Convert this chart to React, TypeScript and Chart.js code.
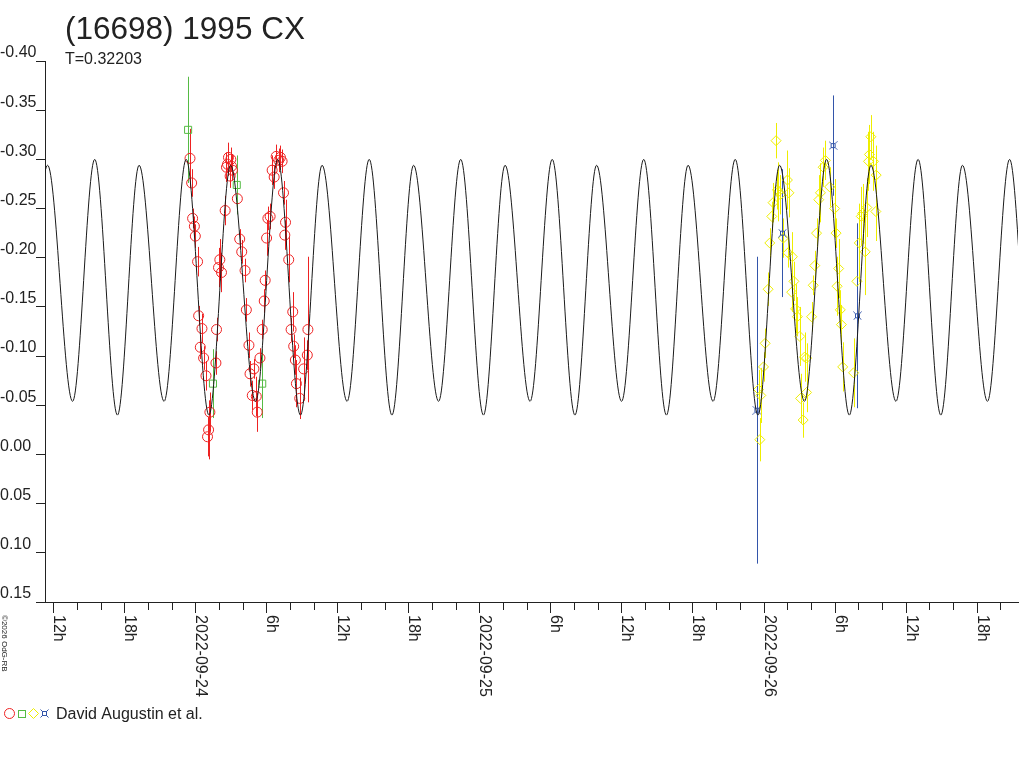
import React, { useEffect, useRef } from "react";
import { Chart, registerables } from "chart.js";

Chart.register(...registerables);

// ---------- text ----------
const TITLE = "(16698) 1995 CX";
const PERIOD_TEXT = "T=0.32203";
const OBSERVER = "David Augustin et al.";
const COPYRIGHT = "©2026 OdG-RB";

// ---------- axes (hours since 2022-09-24 00:00 UT, relative magnitude) ----------
const xMinHours = -12.7;
const xMaxHours = 69.5;
const yMinMag = -0.4;
const yMaxMag = 0.15;
const yTicks = [-0.4, -0.35, -0.3, -0.25, -0.2, -0.15, -0.1, -0.05, 0.0, 0.05, 0.1, 0.15];
const xMinorTicks = [
  -12, -10, -8, -6, -4, -2, 0, 2, 4, 6, 8, 10, 12, 14, 16, 18, 20, 22, 24, 26, 28, 30, 32, 34, 36, 38, 40,
  42, 44, 46, 48, 50, 52, 54, 56, 58, 60, 62, 64, 66, 68,
];
const xLabelHours = [-12, -6, 0, 6, 12, 18, 24, 30, 36, 42, 48, 54, 60, 66];
const xLabelTexts = [
  "12h", "18h", "2022-09-24", "6h", "12h", "18h", "2022-09-25", "6h", "12h", "18h", "2022-09-26", "6h", "12h", "18h",
];

// ---------- fitted light curve: extrema ----------
const fitT = [
  -14.31, -12.48, -10.37, -8.5, -6.58, -4.75, -2.64, -0.77, 1.15, 2.98, 5.09, 6.96, 8.88, 10.71, 12.82, 14.69,
  16.61, 18.44, 20.55, 22.42, 24.34, 26.17, 28.28, 30.15, 32.07, 33.9, 36.01, 37.88, 39.8, 41.63, 43.74, 45.61,
  47.53, 49.36, 51.46, 53.33, 55.25, 57.08, 59.19, 61.06, 62.98, 64.81, 66.92, 68.79, 70.71, 72.54,
];
const fitMag = [
  -0.04, -0.294, -0.054, -0.3, -0.04, -0.294, -0.054, -0.3, -0.04, -0.294, -0.054, -0.3, -0.04, -0.294, -0.054, -0.3,
  -0.04, -0.294, -0.054, -0.3, -0.04, -0.294, -0.054, -0.3, -0.04, -0.294, -0.054, -0.3, -0.04, -0.294, -0.054, -0.3,
  -0.04, -0.294, -0.054, -0.3, -0.04, -0.294, -0.054, -0.3, -0.04, -0.294, -0.054, -0.3, -0.04, -0.294,
];

// ---------- observations ----------
const redT = [
  -0.45, -0.31, -0.23, -0.08, 0.0, 0.19, 0.28, 0.56, 0.42, 0.7, 0.9, 1.23, 1.12, 1.03, 1.74, 1.79, 1.96, 2.07, 2.21,
  2.52, 2.63, 2.8, 3.0, 2.94, 3.13, 3.55, 3.75, 3.92, 4.2, 4.31, 4.53, 4.62, 4.95, 4.81, 5.15, 5.23, 5.46, 5.65,
  5.82, 5.9, 6.02, 6.13, 6.32, 6.49, 6.66, 6.83, 7.05, 7.33, 7.45, 7.62, 7.56, 7.89, 8.23, 8.09, 8.31, 8.45, 8.54,
  8.82, 9.15, 9.46, 9.51, 2.72, 3.06, 7.19,
];
const redMag = [
  -0.301, -0.276, -0.24, -0.232, -0.222, -0.196, -0.141, -0.128, -0.109, -0.098, -0.08, -0.043, -0.025, -0.018,
  -0.093, -0.127, -0.19, -0.198, -0.185, -0.248, -0.292, -0.302, -0.3, -0.283, -0.289, -0.26, -0.219, -0.206,
  -0.187, -0.147, -0.111, -0.082, -0.087, -0.06, -0.059, -0.043, -0.098, -0.127, -0.156, -0.177, -0.22, -0.24,
  -0.242, -0.289, -0.282, -0.303, -0.299, -0.298, -0.266, -0.236, -0.223, -0.198, -0.145, -0.127, -0.11, -0.096,
  -0.072, -0.057, -0.087, -0.101, -0.127, -0.295, -0.293, -0.302,
];
const redErr = [
  0.03, 0.014, 0.01, 0.01, 0.012, 0.015, 0.01, 0.015, 0.012, 0.012, 0.015, 0.02, 0.03, 0.02, 0.012, 0.012, 0.02,
  0.021, 0.02, 0.015, 0.015, 0.015, 0.012, 0.012, 0.01, 0.012, 0.01, 0.012, 0.012, 0.012, 0.013, 0.013, 0.01,
  0.015, 0.02, 0.02, 0.01, 0.01, 0.012, 0.01, 0.018, 0.012, 0.013, 0.015, 0.012, 0.012, 0.012, 0.012, 0.012,
  0.023, 0.015, 0.023, 0.02, 0.012, 0.012, 0.015, 0.024, 0.021, 0.032, 0.015, 0.074, 0.012, 0.012, 0.012,
];

const greenT = [-0.61, 3.5, 1.49, 5.65];
const greenMag = [-0.33, -0.274, -0.072, -0.072];
const greenErr = [0.054, 0.03, 0.035, 0.035];

const yellowT = [
  49.06, 49.26, 48.81, 48.7, 48.53, 48.39, 48.14, 48.0, 47.77, 47.58, 47.69, 49.68, 50.02, 50.15, 50.07, 50.44,
  50.57, 50.38, 50.71, 50.86, 51.07, 51.47, 51.64, 51.13, 51.35, 49.18, 49.42, 53.04, 53.23, 52.81, 52.67, 53.59,
  54.01, 52.48, 54.13, 52.33, 54.35, 52.2, 54.22, 52.06, 54.49, 54.58, 54.69, 55.61, 51.64, 55.89, 56.09, 56.26,
  56.37, 56.59, 56.73, 56.87, 57.07, 56.95, 57.29, 57.52, 57.49,
];
const yellowMag = [
  -0.319, -0.267, -0.256, -0.242, -0.215, -0.168, -0.113, -0.089, -0.06, -0.066, -0.015, -0.22, -0.279, -0.266,
  -0.205, -0.201, -0.176, -0.165, -0.148, -0.14, -0.12, -0.099, -0.063, -0.057, -0.035, -0.269, -0.264, -0.292,
  -0.299, -0.266, -0.259, -0.272, -0.25, -0.225, -0.225, -0.192, -0.189, -0.172, -0.171, -0.14, -0.147, -0.132,
  -0.089, -0.083, -0.098, -0.176, -0.215, -0.242, -0.245, -0.206, -0.251, -0.298, -0.323, -0.305, -0.298, -0.284,
  -0.247,
];
const yellowErr = [
  0.018, 0.03, 0.02, 0.015, 0.015, 0.017, 0.015, 0.015, 0.028, 0.02, 0.022, 0.02, 0.03, 0.025, 0.015, 0.025, 0.02,
  0.02, 0.025, 0.02, 0.03, 0.025, 0.02, 0.025, 0.018, 0.02, 0.02, 0.02, 0.02, 0.03, 0.025, 0.02, 0.03, 0.015,
  0.015, 0.015, 0.03, 0.01, 0.03, 0.015, 0.02, 0.02, 0.025, 0.035, 0.015, 0.04, 0.04, 0.03, 0.03, 0.044, 0.03,
  0.03, 0.022, 0.03, 0.03, 0.03, 0.03,
];

const blueT = [47.44, 49.6, 53.88, 55.94];
const blueMag = [-0.045, -0.225, -0.314, -0.141];
const blueErr = [0.156, 0.065, 0.051, 0.094];

// ---------- styles ----------
const FONT = "'Liberation Sans', Arial, sans-serif";
const INK = "#222222";
const RED = "#ee2222";
const GREEN = "#55bb44";
const YELLOW = "#eeee00";
const BLUE = "#3355aa";
const CURVE = "#1a1a1a";

function makeBlueSymbol(): HTMLCanvasElement {
  const c = document.createElement("canvas");
  c.width = 9;
  c.height = 9;
  const g = c.getContext("2d")!;
  g.strokeStyle = BLUE;
  g.lineWidth = 1;
  g.strokeRect(2.5, 2.5, 4, 4);
  g.beginPath();
  g.moveTo(0.5, 0.5);
  g.lineTo(2.5, 2.5);
  g.moveTo(8.5, 0.5);
  g.lineTo(6.5, 2.5);
  g.moveTo(0.5, 8.5);
  g.lineTo(2.5, 6.5);
  g.moveTo(8.5, 8.5);
  g.lineTo(6.5, 6.5);
  g.stroke();
  return c;
}

const pts = (t: number[], m: number[]) => t.map((v, i) => ({ x: v, y: m[i] }));

export default function App() {
  const ref = useRef<HTMLCanvasElement | null>(null);

  useEffect(() => {
    if (!ref.current) return;
    const blueSym = makeBlueSymbol();

    const errorSeries = [
      { t: redT, m: redMag, e: redErr, c: RED },
      { t: greenT, m: greenMag, e: greenErr, c: GREEN },
      { t: yellowT, m: yellowMag, e: yellowErr, c: YELLOW },
      { t: blueT, m: blueMag, e: blueErr, c: BLUE },
    ];

    const errorBars = {
      id: "errorBars",
      beforeDatasetsDraw(chart: any) {
        const { ctx, chartArea: a, scales } = chart;
        const xs = scales.x;
        const ys = scales.y;
        ctx.save();
        ctx.beginPath();
        ctx.rect(a.left, a.top, a.right - a.left, a.bottom - a.top);
        ctx.clip();
        ctx.lineWidth = 1;
        for (const s of errorSeries) {
          ctx.strokeStyle = s.c;
          ctx.beginPath();
          s.t.forEach((t, i) => {
            const px = Math.round(xs.getPixelForValue(t)) + 0.5;
            ctx.moveTo(px, ys.getPixelForValue(s.m[i] - s.e[i]));
            ctx.lineTo(px, ys.getPixelForValue(s.m[i] + s.e[i]));
          });
          ctx.stroke();
        }
        ctx.restore();
      },
    };

    const decor = {
      id: "decor",
      afterDraw(chart: any) {
        const { ctx, chartArea: a, scales } = chart;
        const xs = scales.x;
        ctx.save();
        // x ticks
        ctx.strokeStyle = INK;
        ctx.lineWidth = 1;
        ctx.beginPath();
        for (const h of xMinorTicks) {
          const px = Math.round(xs.getPixelForValue(h)) + 0.5;
          const len = xLabelHours.includes(h) ? 11 : 8;
          ctx.moveTo(px, a.bottom);
          ctx.lineTo(px, a.bottom + len);
        }
        ctx.stroke();
        // x labels, rotated to read downwards
        ctx.fillStyle = INK;
        ctx.font = `16px ${FONT}`;
        ctx.textAlign = "left";
        ctx.textBaseline = "alphabetic";
        xLabelHours.forEach((h, i) => {
          const px = Math.round(xs.getPixelForValue(h));
          ctx.save();
          ctx.translate(px + 1, a.bottom + 13);
          ctx.rotate(Math.PI / 2);
          ctx.fillText(xLabelTexts[i], 0, 0);
          ctx.restore();
        });
        // title and period
        ctx.font = `31.5px ${FONT}`;
        ctx.fillText(TITLE, 65, 38.5);
        ctx.font = `16px ${FONT}`;
        ctx.fillText(PERIOD_TEXT, 65, 63.5);
        // legend
        ctx.lineWidth = 1;
        ctx.strokeStyle = RED;
        ctx.beginPath();
        ctx.arc(9.5, 713.5, 5, 0, Math.PI * 2);
        ctx.stroke();
        ctx.strokeStyle = GREEN;
        ctx.strokeRect(18.5, 710.5, 7, 7);
        ctx.strokeStyle = YELLOW;
        ctx.beginPath();
        ctx.moveTo(33.5, 708.5);
        ctx.lineTo(38.5, 713.5);
        ctx.lineTo(33.5, 718.5);
        ctx.lineTo(28.5, 713.5);
        ctx.closePath();
        ctx.stroke();
        ctx.drawImage(blueSym, 40, 709);
        ctx.fillStyle = INK;
        ctx.font = `16px ${FONT}`;
        ctx.fillText(OBSERVER, 56, 718.5);
        // copyright, vertical
        ctx.save();
        ctx.translate(1.5, 615);
        ctx.rotate(Math.PI / 2);
        ctx.font = `8px ${FONT}`;
        ctx.fillText(COPYRIGHT, 0, 0);
        ctx.restore();
        ctx.restore();
      },
    };

    const chart = new Chart(ref.current, {
      type: "scatter",
      data: {
        datasets: [
          {
            type: "line",
            label: "fit",
            data: pts(fitT, fitMag),
            borderColor: CURVE,
            borderWidth: 1,
            pointRadius: 0,
            cubicInterpolationMode: "monotone",
            fill: false,
            order: 0,
          } as any,
          {
            label: "red",
            data: pts(redT, redMag),
            pointStyle: "circle",
            pointRadius: 5,
            borderColor: RED,
            backgroundColor: "rgba(0,0,0,0)",
            borderWidth: 1,
            order: 2,
          },
          {
            label: "green",
            data: pts(greenT, greenMag),
            pointStyle: "rect",
            pointRadius: 5,
            borderColor: GREEN,
            backgroundColor: "rgba(0,0,0,0)",
            borderWidth: 1,
            order: 3,
          },
          {
            label: "yellow",
            data: pts(yellowT, yellowMag),
            pointStyle: "rectRot",
            pointRadius: 5,
            borderColor: YELLOW,
            backgroundColor: "rgba(0,0,0,0)",
            borderWidth: 1,
            order: 4,
          },
          {
            label: "blue",
            data: pts(blueT, blueMag),
            pointStyle: blueSym as any,
            pointRadius: 4,
            borderColor: BLUE,
            backgroundColor: "rgba(0,0,0,0)",
            borderWidth: 1,
            order: 1,
          },
        ],
      },
      options: {
        animation: false,
        responsive: true,
        maintainAspectRatio: false,
        events: [],
        layout: { padding: { left: 0, top: 61, right: 0, bottom: 0 } },
        plugins: { legend: { display: false }, tooltip: { enabled: false }, title: { display: false } },
        scales: {
          x: {
            type: "linear",
            min: xMinHours,
            max: xMaxHours,
            ticks: { display: false },
            grid: { display: true, drawOnChartArea: false, drawTicks: false, color: INK },
            border: { display: true, color: INK, width: 1 },
            afterFit: (s: any) => {
              s.height = 166;
            },
          },
          y: {
            type: "linear",
            min: yMinMag,
            max: yMaxMag,
            reverse: true,
            afterBuildTicks: (s: any) => {
              s.ticks = yTicks.map((v) => ({ value: v }));
            },
            ticks: {
              callback: (v: any) => (Math.abs(Number(v)) < 1e-9 ? 0 : Number(v)).toFixed(2),
              font: { family: FONT, size: 16 },
              color: INK,
              padding: 3,
              labelOffset: -8,
              crossAlign: "far",
            },
            grid: {
              display: true,
              drawOnChartArea: false,
              drawTicks: true,
              tickLength: 9,
              color: INK,
              tickColor: INK,
            },
            border: { display: true, color: INK, width: 1 },
            afterFit: (s: any) => {
              s.width = 45;
            },
          },
        },
      },
      plugins: [errorBars, decor],
    });

    return () => chart.destroy();
  }, []);

  return (
    <div style={{ position: "fixed", left: 0, top: 0, width: 1024, height: 768, background: "#fff" }}>
      <canvas ref={ref} />
    </div>
  );
}
